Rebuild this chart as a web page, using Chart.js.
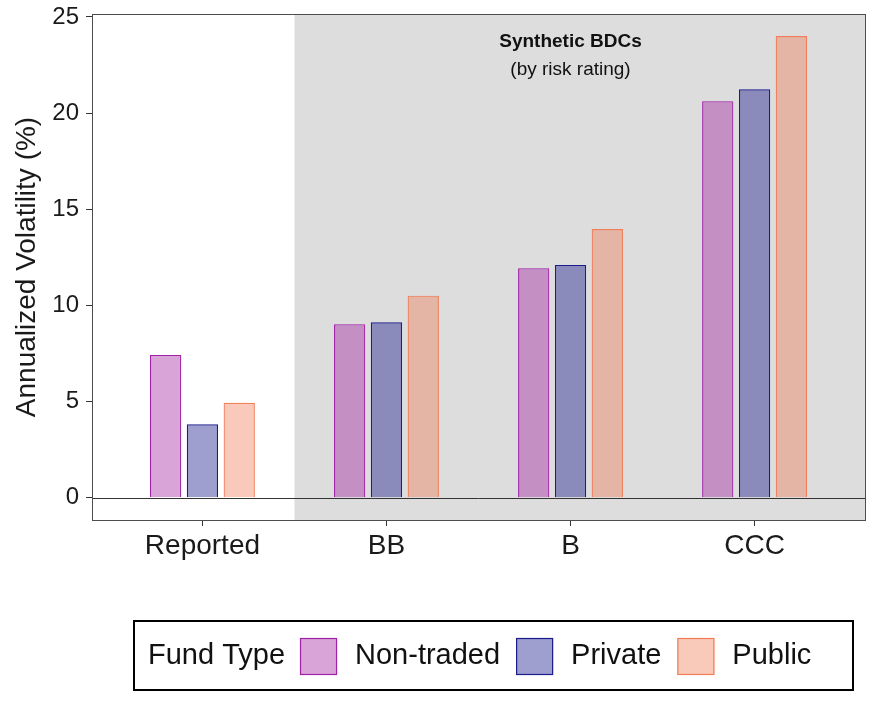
<!DOCTYPE html>
<html><head><meta charset="utf-8">
<script src="https://cdn.jsdelivr.net/npm/chart.js@4/dist/chart.umd.min.js"></script>
<style>html,body{margin:0;padding:0;background:#fff}#wrap{width:880px;height:704px}</style>
</head><body><div id="wrap"><canvas id="c" width="880" height="704"></canvas></div>
<script>
const categories = ['Reported', 'BB', 'B', 'CCC'];
const seriesNames = ['Non-traded', 'Private', 'Public'];
const nonTraded = [7.43, 9.03, 11.94, 20.62];
const privateFunds = [3.83, 9.13, 12.11, 21.24];
const publicFunds = [4.94, 10.51, 13.97, 24.01];
const yTicks = [0, 5, 10, 15, 20, 25];
const panelTitle = 'Synthetic BDCs';
const panelSubtitle = '(by risk rating)';
const legendTitle = 'Fund Type';
const yTitle = 'Annualized Volatility (%)';

const FONT = '"Liberation Sans", Arial, Helvetica, sans-serif';
const fills = ['rgba(160,30,160,0.4)', 'rgba(25,25,140,0.42)', 'rgba(240,120,80,0.4)'];
const borders = ['#A020A8', '#1C1C8C', '#F07E58'];
const seriesData = [nonTraded, privateFunds, publicFunds];

const panelPlugin = {
  id: 'panel',
  beforeDatasetsDraw(chart) {
    const {ctx, chartArea: a, scales: {x}} = chart;
    const x0 = x.getPixelForValue(0.5);
    ctx.save();
    ctx.fillStyle = '#DDDDDD';
    ctx.fillRect(x0, a.top, a.right - x0, a.bottom - a.top);
    ctx.fillStyle = '#111';
    ctx.textAlign = 'center';
    ctx.textBaseline = 'middle';
    const cx = x.getPixelForValue(2);
    ctx.font = 'bold 19px ' + FONT;
    ctx.fillText(panelTitle, cx, a.top + 28);
    ctx.font = '19px ' + FONT;
    ctx.fillText(panelSubtitle, cx, a.top + 56);
    ctx.restore();
  },
  afterDatasetsDraw(chart) {
    const {ctx, chartArea: a, scales: {y}} = chart;
    ctx.save();
    ctx.strokeStyle = '#333';
    ctx.lineWidth = 1;
    const y0 = Math.round(y.getPixelForValue(0)) + 0.5;
    ctx.beginPath(); ctx.moveTo(a.left, y0); ctx.lineTo(a.right, y0); ctx.stroke();
    ctx.strokeStyle = '#4d4d4d';
    ctx.strokeRect(Math.round(a.left) + 0.5, Math.round(a.top) + 0.5, Math.round(a.right - a.left), Math.round(a.bottom - a.top));
    ctx.restore();
  },
  afterDraw(chart) {
    const {ctx} = chart;
    ctx.save();
    ctx.strokeStyle = '#000';
    ctx.lineWidth = 2;
    ctx.strokeRect(134, 621, 719, 69);
    ctx.font = '29px ' + FONT;
    ctx.fillStyle = '#111';
    ctx.textBaseline = 'middle';
    ctx.textAlign = 'left';
    const cy = 656;
    let xPos = 148;
    ctx.fillText(legendTitle, xPos, cy);
    xPos += ctx.measureText(legendTitle).width + 15;
    seriesNames.forEach((n, k) => {
      ctx.fillStyle = '#fff';
      ctx.fillRect(xPos, cy - 18, 37, 37);
      ctx.fillStyle = fills[k];
      ctx.fillRect(xPos, cy - 18, 37, 37);
      ctx.strokeStyle = borders[k];
      ctx.lineWidth = 1.2;
      ctx.strokeRect(xPos + 0.5, cy - 17.5, 36, 36);
      xPos += 37 + 18;
      ctx.fillStyle = '#111';
      ctx.fillText(n, xPos, cy);
      xPos += ctx.measureText(n).width + 16;
    });
    ctx.restore();
  }
};

new Chart(document.getElementById('c'), {
  type: 'bar',
  data: {
    datasets: seriesNames.map((n, k) => ({
      label: n,
      data: categories.map((c, i) => ({x: i, y: seriesData[k][i]})),
      backgroundColor: fills[k],
      borderColor: borders[k],
      borderWidth: 1.2,
      categoryPercentage: 0.6,
      barPercentage: 0.85
    }))
  },
  options: {
    responsive: false,
    animation: false,
    devicePixelRatio: 1,
    layout: {padding: {left: 0, right: 15, top: 14, bottom: 124}},
    plugins: {legend: {display: false}, tooltip: {enabled: false}},
    scales: {
      x: {
        type: 'linear', min: -0.6, max: 3.6, offset: false,
        afterBuildTicks: s => { s.ticks = categories.map((c, i) => ({value: i})); },
        afterFit: s => { s.height = 60; s.paddingLeft = 0; s.paddingRight = 0; },
        ticks: {callback: v => categories[v], font: {size: 28, family: FONT}, color: '#1a1a1a', padding: 3, maxRotation: 0, autoSkip: false, includeBounds: false},
        grid: {drawOnChartArea: false, offset: false, tickLength: 6, color: '#333', lineWidth: 1},
        border: {display: false}
      },
      y: {
        min: -1.15, max: 25.15,
        afterBuildTicks: s => { s.ticks = yTicks.map(v => ({value: v})); },
        afterFit: s => { s.width = 92; s.paddingTop = 0; s.paddingBottom = 0; },
        ticks: {font: {size: 24, family: FONT}, color: '#1a1a1a', padding: 7},
        grid: {drawOnChartArea: false, tickLength: 6, color: '#333', lineWidth: 1},
        border: {display: false},
        title: {display: true, text: yTitle, font: {size: 28, family: FONT}, color: '#1a1a1a', padding: {top: 10, bottom: 0}}
      }
    }
  },
  plugins: [panelPlugin]
});
</script></body></html>
